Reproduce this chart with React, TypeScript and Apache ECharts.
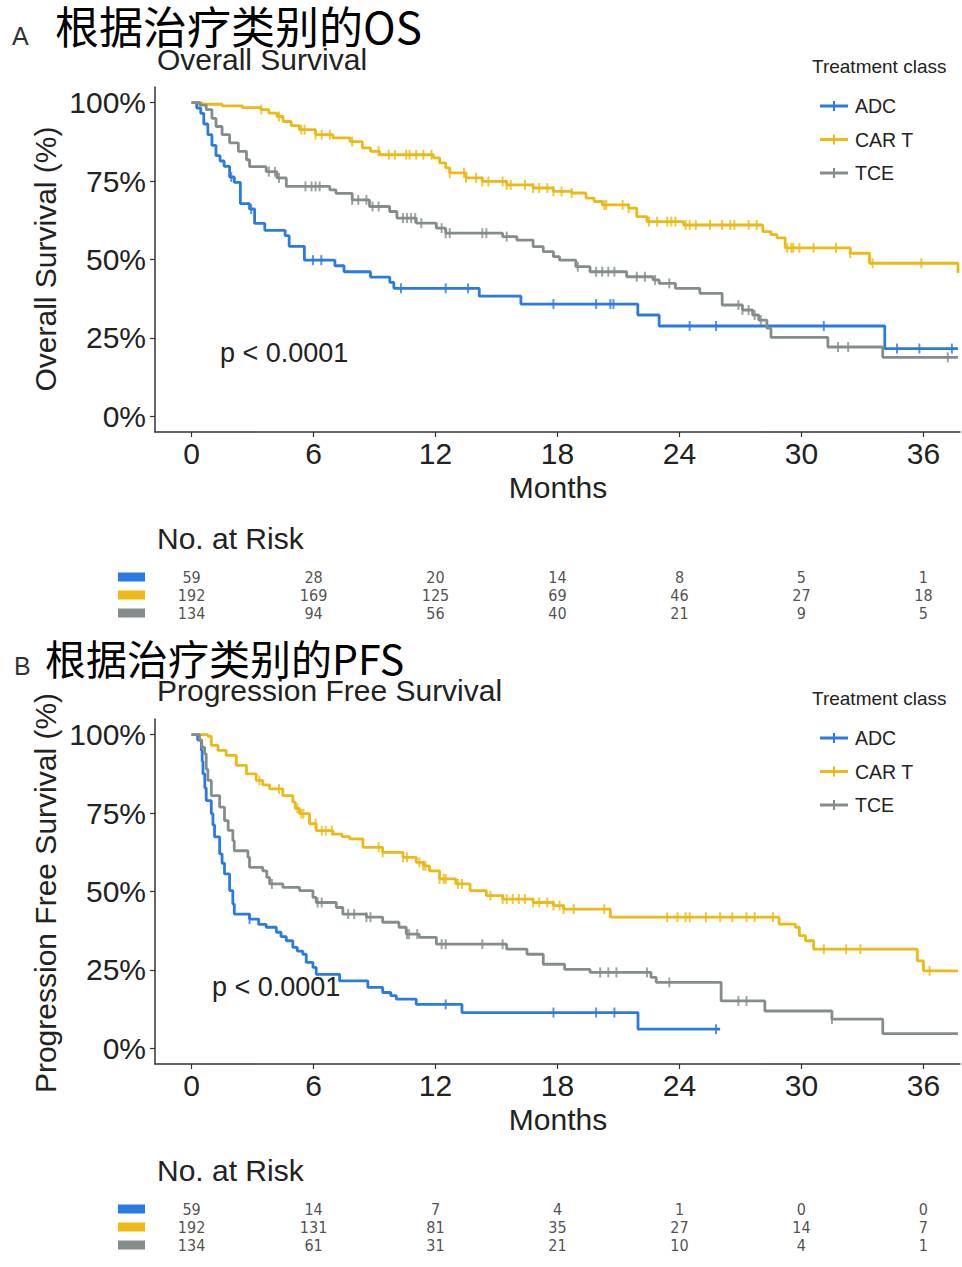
import React, { useEffect, useRef } from 'react';
import * as echarts from 'echarts';

const FONT = '"Liberation Sans", Arial, Helvetica, sans-serif';
const NARROW = '"Liberation Sans Narrow", "DejaVu Sans Condensed", "Liberation Sans", sans-serif';
const CJK = '"Noto Sans CJK SC", sans-serif';

const groups = ['ADC', 'CAR T', 'TCE'];
const groupKeys = ['adc', 'cart', 'tce'];
const groupColors = ['#2a7ae4', '#ecb915', '#858d8c'];
const monthTicks = [0, 6, 12, 18, 24, 30, 36];
const pctTicks = [0, 25, 50, 75, 100];
const riskTimes = [0, 6, 12, 18, 24, 30, 36];

// Overall survival step curves: [month, survival %]
const osAdc = [
  [0, 100], [0.25, 98.3], [0.45, 96.6], [0.6, 93.2], [0.8, 89.8], [1.0, 86.4], [1.2, 83.1], [1.4, 81.4],
  [1.6, 79.7], [1.87, 76.3], [2.1, 74.6], [2.4, 67.8], [2.85, 66.1], [3.1, 61.5], [3.6, 59.3], [4.6, 57.6],
  [4.8, 54.2], [5.55, 49.8], [7.05, 48.0], [7.5, 46.1], [8.8, 44.4], [9.75, 42.7], [9.95, 40.8],
  [14.15, 38.3], [16.2, 35.8], [21.95, 32.3], [23.0, 28.8], [34.1, 21.6], [37.7, 21.6],
];
const osCart = [
  [0, 100], [0.5, 99.5], [1.5, 99.0], [2.5, 98.4], [3.4, 97.8], [3.8, 96.7], [4.2, 95.6], [4.5, 94.0],
  [4.9, 92.7], [5.3, 91.4], [6.1, 89.8], [6.95, 88.8], [7.8, 87.6], [8.4, 85.6], [8.8, 84.5], [9.25, 83.4],
  [11.9, 82.4], [12.2, 80.8], [12.5, 79.2], [12.7, 77.6], [13.5, 76.0], [14.3, 74.9], [15.5, 73.8],
  [16.8, 72.8], [17.8, 71.7], [18.7, 71.2], [19.4, 69.6], [19.8, 68.5], [20.2, 67.4], [21.5, 66.4],
  [21.9, 63.7], [22.4, 62.1], [24.2, 61.0], [28.1, 58.9], [28.5, 57.9], [28.8, 56.9], [29.2, 53.7],
  [32.4, 52.0], [33.35, 48.8], [37.7, 45.7],
];
const osTce = [
  [0, 100], [0.4, 99.2], [0.72, 97.8], [1.0, 95.0], [1.2, 92.4], [1.5, 89.8], [1.87, 87.2], [2.3, 84.5],
  [2.7, 81.8], [2.85, 79.6], [3.67, 78.0], [4.2, 76.0], [4.66, 73.3], [6.8, 72.2], [7.1, 71.1], [7.9, 69.0],
  [8.75, 66.9], [9.74, 65.3], [10.1, 63.2], [11.05, 61.6], [12.04, 60.0], [12.5, 58.4], [15.3, 57.3],
  [16.0, 56.2], [16.8, 54.1], [17.3, 52.5], [17.8, 50.9], [18.1, 49.8], [18.9, 47.7], [19.6, 46.1],
  [21.4, 44.5], [22.7, 43.5], [23.0, 42.4], [23.8, 40.8], [25.0, 39.2], [26.1, 35.5], [27.1, 33.9],
  [27.6, 32.3], [27.9, 30.7], [28.3, 28.1], [28.5, 25.2], [31.3, 22.1], [34.0, 18.8], [37.7, 18.8],
];

// Censoring times (months)
const osAdcCens = [1.95, 2.93, 5.97, 6.38, 10.3, 12.5, 13.6, 17.8, 19.9, 20.6, 20.75, 24.5, 25.8, 31.1, 34.7, 35.8, 37.4];
const osCartCens = [
  3.43, 4.3, 5.4, 5.56, 6.1, 6.4, 6.8, 7.9, 9.2, 9.7, 10, 10.56, 10.72, 11.05, 11.4, 11.8, 12.7, 13.4, 13.5,
  14, 14.3, 14.6, 15.3, 15.5, 15.7, 16.4, 16.8, 17.1, 17.5, 17.8, 18.2, 18.7, 20.3, 20.4, 21.2, 21.5, 22.5,
  22.9, 23.4, 23.6, 23.8, 24.3, 24.5, 24.8, 25.5, 26.1, 26.5, 26.7, 27.4, 27.8, 29.3, 29.5, 29.6, 29.9,
  30.6, 31.7, 32.4, 33.5, 35.9,
];
const osTceCens = [
  3.8, 4.1, 4.3, 5.6, 5.9, 6.1, 6.3, 7.9, 8.2, 8.6, 8.9, 9.2, 10.4, 10.6, 10.8, 11, 11.3, 12.3, 12.5, 12.7,
  14.3, 14.5, 15.5, 19, 19.9, 20.2, 20.5, 20.8, 21.9, 22.3, 22.8, 23.5, 26.9, 27.1, 27.4, 27.7, 28, 31.8,
  32.3, 37.2,
];

// Progression free survival step curves
const pfsAdc = [
  [0, 100], [0.3, 98.3], [0.48, 95.0], [0.52, 91.5], [0.56, 87.5], [0.65, 83.0], [0.72, 79.0], [0.97, 74.8],
  [1.05, 71.2], [1.13, 67.4], [1.38, 62.0], [1.5, 59.0], [1.62, 55.6], [1.87, 50.3], [2.03, 46.0],
  [2.1, 42.8], [2.85, 41.2], [3.3, 39.5], [3.67, 38.6], [4.17, 37.0], [4.4, 35.6], [4.66, 34.3],
  [4.98, 32.2], [5.2, 31.0], [5.47, 30.0], [5.64, 27.4], [5.97, 25.8], [6.13, 23.6], [7.28, 21.5],
  [8.67, 19.4], [9.4, 17.8], [9.8, 16.8], [10.07, 15.7], [11.05, 14.0], [13.3, 11.4], [21.96, 6.1], [26.0, 6.1],
];
const pfsCart = [
  [0, 100], [0.8, 99.5], [0.97, 96.6], [1.3, 95.0], [1.7, 93.4], [2.2, 90.2], [2.7, 87.5], [3.18, 85.4],
  [3.5, 84.0], [3.84, 82.7], [4.49, 80.6], [4.98, 78.5], [5.1, 76.5], [5.31, 74.8], [5.8, 71.6], [6.13, 69.4],
  [6.95, 68.3], [7.4, 67.5], [7.77, 66.8], [8.43, 64.1], [9.4, 62.5], [10.4, 60.9], [11.05, 59.3],
  [11.4, 58.2], [11.7, 56.6], [12.2, 54.0], [13.0, 52.4], [13.7, 50.3], [14.5, 48.7], [15.3, 47.6],
  [16.8, 46.5], [17.8, 45.5], [18.3, 44.4], [20.6, 41.8], [28.9, 39.6], [29.7, 38.6], [29.9, 35.9],
  [30.2, 34.3], [30.6, 31.6], [35.7, 27.9], [36.0, 24.7], [37.7, 24.7],
];
const pfsTce = [
  [0, 100], [0.39, 98.2], [0.5, 96.0], [0.64, 93.9], [0.72, 89.0], [0.8, 85.4], [0.97, 80.6], [1.38, 76.9],
  [1.62, 72.6], [1.8, 69.5], [2.03, 66.2], [2.1, 63.0], [2.77, 60.9], [2.85, 57.7], [3.5, 56.6], [3.7, 54.5],
  [3.84, 52.4], [4.49, 51.3], [5.31, 50.3], [5.97, 48.1], [6.13, 46.5], [7.12, 44.9], [7.44, 42.8],
  [8.6, 41.8], [9.4, 40.2], [10.2, 38.6], [10.56, 36.4], [11.2, 35.4], [12.04, 33.2], [15.5, 31.6],
  [16.5, 30.0], [17.3, 26.8], [18.35, 25.2], [19.6, 24.2], [22.6, 22.6], [22.86, 21.0], [26.05, 15.1],
  [28.2, 11.9], [31.5, 9.3], [34.0, 4.7], [37.7, 4.7],
];

const pfsAdcCens = [2.85, 12.5, 17.8, 19.9, 20.8, 25.8];
const pfsCartCens = [
  3.34, 4.3, 5.2, 5.4, 5.5, 6.1, 6.4, 6.6, 6.9, 9.2, 9.4, 10.4, 10.6, 11.2, 11.4, 11.5, 12.2, 12.4, 12.5,
  13.1, 13.3, 14.7, 15.3, 15.5, 15.8, 16.1, 16.4, 16.8, 17.1, 17.5, 17.8, 18.1, 18.3, 18.8, 20.3, 23.4,
  23.9, 24.3, 24.5, 25.3, 26, 26.6, 27.3, 27.7, 28.6, 31.1, 32.2, 32.9, 36.3,
];
const pfsTceCens = [
  3.95, 6.2, 6.4, 7.7, 8, 8.6, 8.8, 10.6, 10.7, 11.1, 12.3, 12.5, 14.3, 15.3, 20.1, 20.5, 20.9, 22.4, 23.5,
  26.9, 27.3, 31.5,
];

// Numbers at risk
const osRiskAdc = [59, 28, 20, 14, 8, 5, 1];
const osRiskCart = [192, 169, 125, 69, 46, 27, 18];
const osRiskTce = [134, 94, 56, 40, 21, 9, 5];
const pfsRiskAdc = [59, 14, 7, 4, 1, 0, 0];
const pfsRiskCart = [192, 131, 81, 35, 27, 14, 7];
const pfsRiskTce = [134, 61, 31, 21, 10, 4, 1];

const LEGEND_ICON = 'path://M0,3.5 L28,3.5 L28,6.5 L0,6.5 Z M13,0 L15,0 L15,10 L13,10 Z';

function stepAt(curve: number[][], t: number) {
  let v = curve[0][1];
  for (const [x, y] of curve) {
    if (x <= t) v = y;
    else break;
  }
  return v;
}

function kmSeries(gi: number, curve: number[][], cens: number[], axisIndex: number) {
  const color = groupColors[gi];
  return [
    {
      type: 'line',
      name: groups[gi],
      xAxisIndex: axisIndex,
      yAxisIndex: axisIndex,
      step: 'end',
      symbol: 'none',
      data: curve,
      lineStyle: { color, width: 2.8 },
      itemStyle: { color },
      silent: true,
      z: 3,
    },
    {
      type: 'scatter',
      name: groups[gi] + ' censored',
      xAxisIndex: axisIndex,
      yAxisIndex: axisIndex,
      symbol: 'rect',
      symbolSize: [2, 10],
      data: cens.map((t) => [t, stepAt(curve, t)]),
      itemStyle: { color },
      silent: true,
      z: 4,
    },
  ];
}

function riskSeries(gi: number, vals: number[], axisIndex: number) {
  return {
    type: 'scatter',
    name: groups[gi] + ' risk',
    xAxisIndex: axisIndex,
    yAxisIndex: axisIndex,
    symbolSize: 1,
    itemStyle: { color: 'rgba(0,0,0,0)' },
    data: riskTimes.map((t, i) => [t, gi, vals[i]]),
    label: {
      show: true,
      position: 'inside',
      formatter: (p: any) => String(p.value[2]),
      fontSize: 16,
      color: '#222',
      fontFamily: NARROW,
    },
    silent: true,
  };
}

function mainXAxis(gridIndex: number) {
  return {
    type: 'value',
    gridIndex,
    min: -1.8,
    max: 37.8,
    axisLine: { show: true, onZero: false, lineStyle: { color: '#333', width: 1.5 } },
    axisTick: { show: true, length: 5, customValues: monthTicks, lineStyle: { color: '#333', width: 1.2 } },
    axisLabel: { customValues: monthTicks, fontSize: 30, color: '#222', margin: 6, fontFamily: FONT },
    splitLine: { show: false },
  };
}

function mainYAxis(gridIndex: number) {
  return {
    type: 'value',
    gridIndex,
    min: -5,
    max: 105,
    axisLine: { show: true, onZero: false, lineStyle: { color: '#333', width: 1.5 } },
    axisTick: { show: true, length: 5, customValues: pctTicks, lineStyle: { color: '#333', width: 1.2 } },
    axisLabel: {
      customValues: pctTicks,
      fontSize: 30,
      color: '#222',
      margin: 9,
      fontFamily: FONT,
      formatter: (v: number) => v + '%',
    },
    splitLine: { show: false },
  };
}

function riskXAxis(gridIndex: number) {
  return { type: 'value', gridIndex, min: -1.8, max: 37.8, show: false };
}

function riskYAxis(gridIndex: number) {
  const rich: any = {};
  groupKeys.forEach((k, i) => {
    rich[k] = { width: 27, height: 9, backgroundColor: groupColors[i] };
  });
  return {
    type: 'category',
    gridIndex,
    data: groups,
    inverse: true,
    axisLine: { show: false },
    axisTick: { show: false },
    splitLine: { show: false },
    axisLabel: {
      margin: 10,
      formatter: (v: string) => '{' + groupKeys[groups.indexOf(v)] + '|}',
      rich,
    },
  };
}

function txt(text: string, x: number, y: number, fontSize: number, extra: any = {}) {
  return {
    type: 'text',
    x,
    y,
    rotation: extra.rotation || 0,
    silent: true,
    style: {
      text,
      fontSize,
      lineHeight: extra.lineHeight || fontSize,
      fontFamily: extra.fontFamily || FONT,
      fill: extra.fill || '#222',
      textAlign: extra.align || 'left',
      textVerticalAlign: 'middle',
    },
  };
}

function legendFor(top: number) {
  return {
    data: groups,
    orient: 'vertical',
    left: 815,
    top,
    itemWidth: 28,
    itemHeight: 10,
    itemGap: 13.5,
    icon: LEGEND_ICON,
    selectedMode: false,
    itemStyle: { borderWidth: 0 },
    textStyle: { fontSize: 19.5, color: '#222', fontFamily: FONT, padding: [0, 0, 0, 2] },
  };
}

export default function App() {
  const ref = useRef<HTMLDivElement>(null);

  useEffect(() => {
    if (!ref.current) return;
    const chart = echarts.init(ref.current, null, { renderer: 'svg' });
    const option: any = {
      animation: false,
      backgroundColor: '#ffffff',
      grid: [
        { left: 155, top: 87, width: 805, height: 345 },
        { left: 155, top: 568, width: 805, height: 54 },
        { left: 155, top: 719, width: 805, height: 345 },
        { left: 155, top: 1200, width: 805, height: 54 },
      ],
      xAxis: [mainXAxis(0), riskXAxis(1), mainXAxis(2), riskXAxis(3)],
      yAxis: [mainYAxis(0), riskYAxis(1), mainYAxis(2), riskYAxis(3)],
      legend: [legendFor(91), legendFor(723)],
      series: [
        ...kmSeries(0, osAdc, osAdcCens, 0),
        ...kmSeries(1, osCart, osCartCens, 0),
        ...kmSeries(2, osTce, osTceCens, 0),
        riskSeries(0, osRiskAdc, 1),
        riskSeries(1, osRiskCart, 1),
        riskSeries(2, osRiskTce, 1),
        ...kmSeries(0, pfsAdc, pfsAdcCens, 2),
        ...kmSeries(1, pfsCart, pfsCartCens, 2),
        ...kmSeries(2, pfsTce, pfsTceCens, 2),
        riskSeries(0, pfsRiskAdc, 3),
        riskSeries(1, pfsRiskCart, 3),
        riskSeries(2, pfsRiskTce, 3),
      ],
      graphic: [
        txt('A', 12, 36, 25, { fill: '#333' }),
        txt('根据治疗类别的OS', 55, 25, 44, { fontFamily: CJK, fill: '#000', lineHeight: 40 }),
        txt('Overall Survival', 157, 59, 30, { lineHeight: 24 }),
        txt('Overall Survival (%)', 45, 259, 30, { rotation: Math.PI / 2, align: 'center' }),
        txt('Months', 558, 487, 30, { align: 'center' }),
        txt('p < 0.0001', 220, 353, 27),
        txt('Treatment class', 812, 66, 19),
        txt('No. at Risk', 157, 538, 30),
        txt('B', 14, 666, 25, { fill: '#333' }),
        txt('根据治疗类别的PFS', 45, 657, 41, { fontFamily: CJK, fill: '#000', lineHeight: 38 }),
        txt('Progression Free Survival', 157, 690, 30, { lineHeight: 24 }),
        txt('Progression Free Survival (%)', 45, 893, 30, { rotation: Math.PI / 2, align: 'center' }),
        txt('Months', 558, 1119, 30, { align: 'center' }),
        txt('p < 0.0001', 212, 987, 27),
        txt('Treatment class', 812, 698, 19),
        txt('No. at Risk', 157, 1170, 30),
      ],
    };
    chart.setOption(option);
    return () => chart.dispose();
  }, []);

  return (
    <div
      ref={ref}
      style={{ position: 'absolute', left: 0, top: 0, width: 962, height: 1267, background: '#fff' }}
    />
  );
}
